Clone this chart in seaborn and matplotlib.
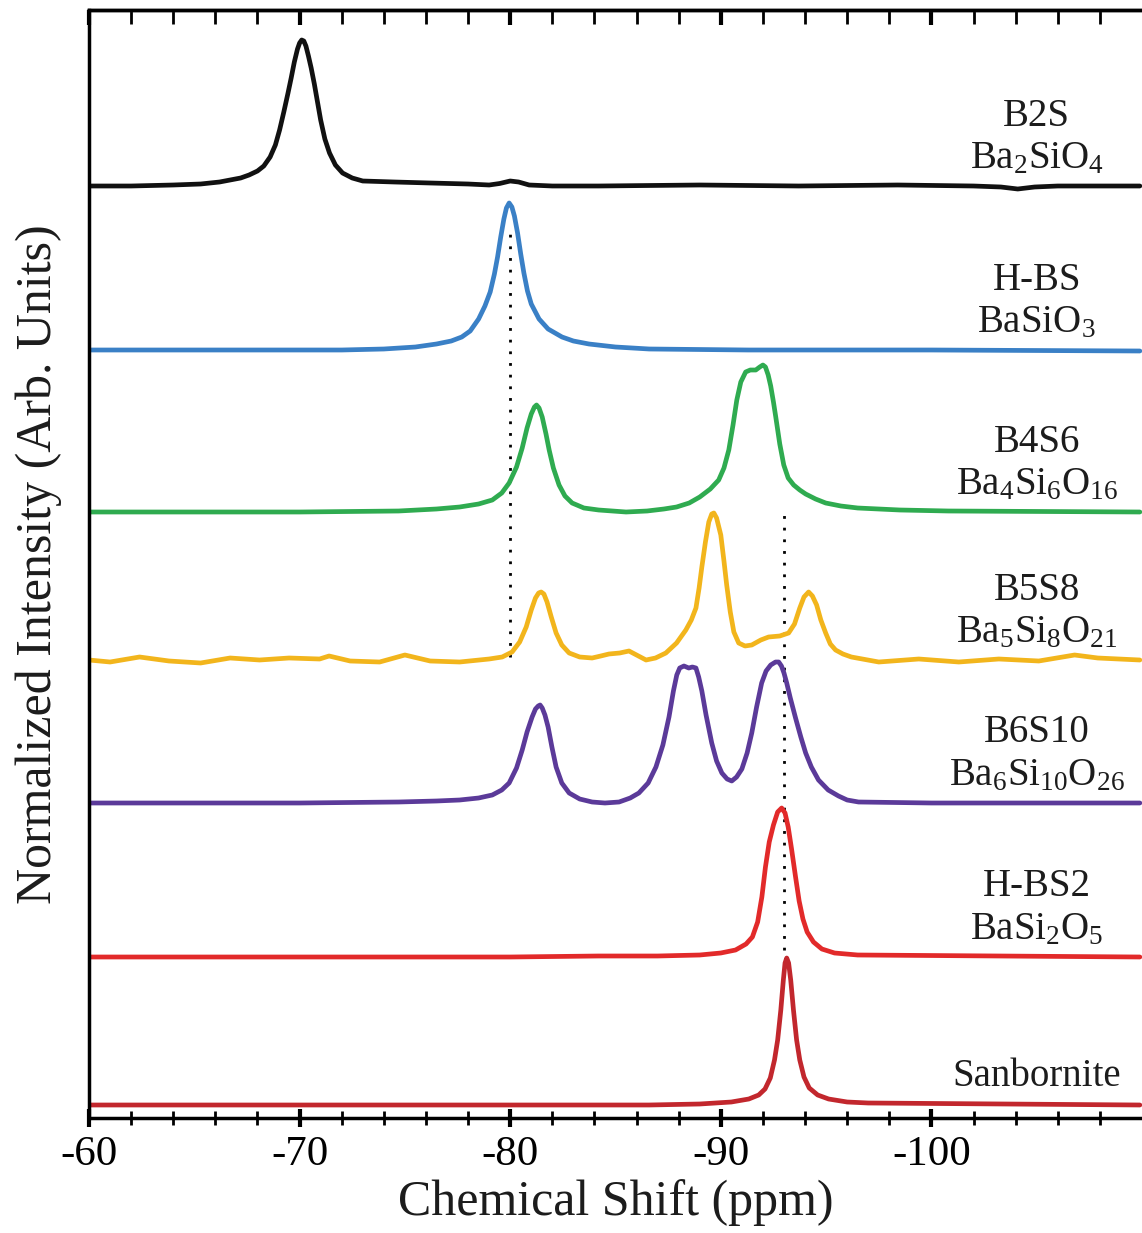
import numpy as np
import pandas as pd
import matplotlib
matplotlib.use("Agg")
import matplotlib.pyplot as plt
import seaborn as sns

# ---------------- data ----------------
# chemical shift (ppm) and intensity above each trace's own baseline (arb. units)
b2s_ppm = [-60.0, -62.0, -64.0, -65.3, -66.2, -66.7, -67.2, -67.6, -68.0, -68.3, -68.6, -68.85,
           -69.05, -69.25, -69.45, -69.6, -69.75, -69.9, -70.0, -70.1, -70.2, -70.3, -70.42, -70.55,
           -70.7, -70.85, -71.0, -71.2, -71.42, -71.7, -72.04, -72.5, -73.0, -74.5, -76.2, -78.0,
           -79.0, -79.5, -80.0, -80.4, -80.9, -82.0, -84.2, -89.0, -93.7, -98.4, -102.0, -103.3,
           -104.1, -104.9, -106.0, -109.9]
b2s_int = [0.0, 0.0, 0.01, 0.02, 0.04, 0.06, 0.08, 0.11, 0.15, 0.20, 0.29, 0.41,
           0.56, 0.74, 0.93, 1.08, 1.24, 1.37, 1.43, 1.46, 1.45, 1.40, 1.30, 1.18,
           1.02, 0.84, 0.66, 0.47, 0.33, 0.21, 0.13, 0.08, 0.05, 0.04, 0.03, 0.02,
           0.01, 0.025, 0.05, 0.04, 0.01, 0.0, 0.0, 0.01, 0.0, 0.01, 0.0, -0.01,
           -0.03, -0.01, 0.0, 0.0]

hbs_ppm = [-60.0, -66.0, -72.0, -74.0, -75.5, -76.5, -77.2, -77.7, -78.1, -78.5, -78.8, -79.05,
           -79.25, -79.4, -79.55, -79.7, -79.82, -79.95, -80.08, -80.2, -80.35, -80.5, -80.65, -80.82,
           -81.0, -81.37, -81.8, -82.46, -83.0, -83.74, -85.0, -86.6, -91.3, -100.0, -109.9]
hbs_int = [0.0, 0.0, 0.0, 0.01, 0.03, 0.06, 0.09, 0.13, 0.19, 0.31, 0.44, 0.58,
           0.76, 0.93, 1.13, 1.31, 1.42, 1.47, 1.43, 1.34, 1.17, 0.96, 0.77, 0.59,
           0.46, 0.31, 0.21, 0.13, 0.09, 0.06, 0.03, 0.01, 0.0, 0.0, -0.01]

b4s6_ppm = [-60.0, -70.0, -74.7, -76.5, -77.6, -78.5, -79.15, -79.6, -79.95, -80.3, -80.57, -80.8,
            -81.0, -81.15, -81.25, -81.37, -81.52, -81.7, -81.85, -82.05, -82.32, -82.6, -82.94, -83.5,
            -84.2, -85.5, -86.5, -87.3, -87.9, -88.5, -89.0, -89.5, -89.9, -90.15, -90.38, -90.58,
            -90.76, -90.95, -91.18, -91.4, -91.66, -91.85, -92.0, -92.12, -92.25, -92.37, -92.5, -92.61,
            -92.8, -92.99, -93.2, -93.46, -93.75, -94.03, -94.5, -94.98, -95.7, -96.5, -98.5, -100.8,
            -109.9]
b4s6_int = [0.0, 0.0, 0.01, 0.03, 0.05, 0.08, 0.12, 0.19, 0.29, 0.45, 0.64, 0.84,
            0.98, 1.05, 1.07, 1.04, 0.95, 0.78, 0.62, 0.44, 0.27, 0.16, 0.09, 0.04,
            0.02, 0.0, 0.01, 0.03, 0.05, 0.09, 0.15, 0.23, 0.32, 0.44, 0.62, 0.87,
            1.12, 1.30, 1.40, 1.42, 1.42, 1.45, 1.47, 1.45, 1.37, 1.26, 1.10, 0.95,
            0.68, 0.47, 0.34, 0.27, 0.22, 0.18, 0.13, 0.09, 0.06, 0.04, 0.02, 0.01,
            0.0]

b5s8_ppm = [-60.0, -61.0, -62.4, -63.8, -65.3, -66.7, -68.1, -69.5, -70.95, -71.4, -72.4, -73.8,
            -75.0, -76.2, -77.6, -79.0, -79.62, -80.09, -80.45, -80.76, -81.0, -81.2, -81.35, -81.47,
            -81.6, -81.75, -81.95, -82.18, -82.45, -82.8, -83.3, -83.89, -84.3, -84.69, -85.2, -85.64,
            -86.0, -86.45, -86.9, -87.39, -87.9, -88.34, -88.6, -88.82, -88.97, -89.1, -89.27, -89.43,
            -89.57, -89.67, -89.8, -90.0, -90.15, -90.28, -90.45, -90.62, -90.85, -91.15, -91.47, -91.9,
            -92.27, -92.8, -93.22, -93.5, -93.75, -93.95, -94.17, -94.35, -94.55, -94.75, -94.98, -95.2,
            -95.45, -95.8, -96.2, -97.5, -99.4, -101.3, -103.2, -105.1, -106.8, -107.9, -109.9]
b5s8_int = [0.0, -0.02, 0.03, -0.01, -0.03, 0.02, 0.0, 0.02, 0.01, 0.04, -0.01, -0.02,
            0.05, -0.01, -0.02, 0.01, 0.03, 0.08, 0.18, 0.33, 0.50, 0.62, 0.67, 0.68,
            0.66, 0.58, 0.43, 0.27, 0.15, 0.07, 0.03, 0.02, 0.04, 0.06, 0.07, 0.09,
            0.05, 0.0, 0.02, 0.07, 0.17, 0.30, 0.40, 0.52, 0.72, 0.93, 1.18, 1.38,
            1.46, 1.47, 1.42, 1.25, 0.99, 0.75, 0.48, 0.28, 0.17, 0.14, 0.15, 0.20,
            0.23, 0.24, 0.27, 0.36, 0.52, 0.63, 0.68, 0.64, 0.55, 0.40, 0.27, 0.16,
            0.10, 0.06, 0.03, -0.02, 0.01, -0.02, 0.01, -0.01, 0.05, 0.02, 0.0]

b6s10_ppm = [-60.0, -70.0, -74.7, -76.5, -77.6, -78.5, -79.15, -79.6, -79.95, -80.3, -80.57, -80.8,
             -81.04, -81.2, -81.33, -81.42, -81.52, -81.65, -81.8, -81.98, -82.18, -82.45, -82.8, -83.3,
             -83.89, -84.5, -85.17, -85.7, -86.11, -86.55, -86.92, -87.25, -87.54, -87.75, -87.91, -88.05,
             -88.25, -88.48, -88.65, -88.82, -88.95, -89.1, -89.3, -89.57, -89.8, -90.05, -90.3, -90.52,
             -90.75, -91.0, -91.25, -91.47, -91.7, -91.94, -92.15, -92.37, -92.6, -92.75, -92.88, -93.0,
             -93.13, -93.3, -93.55, -93.8, -94.03, -94.3, -94.64, -95.1, -95.59, -96.0, -96.54, -100.0,
             -109.9]
b6s10_int = [0.0, 0.0, 0.01, 0.02, 0.03, 0.05, 0.08, 0.13, 0.20, 0.35, 0.53, 0.71,
             0.86, 0.94, 0.97, 0.98, 0.95, 0.88, 0.76, 0.56, 0.36, 0.20, 0.10, 0.04,
             0.01, 0.0, 0.01, 0.05, 0.10, 0.20, 0.36, 0.58, 0.86, 1.12, 1.28, 1.35,
             1.37, 1.35, 1.36, 1.35, 1.26, 1.12, 0.88, 0.60, 0.42, 0.30, 0.24, 0.22,
             0.26, 0.34, 0.50, 0.70, 0.96, 1.20, 1.32, 1.38, 1.41, 1.41, 1.37, 1.30,
             1.20, 1.05, 0.85, 0.66, 0.50, 0.36, 0.23, 0.13, 0.07, 0.03, 0.01, 0.0,
             0.0]

hbs2_ppm = [-60.0, -80.0, -84.2, -87.0, -89.0, -90.0, -90.7, -91.2, -91.5, -91.75, -91.95, -92.12,
            -92.3, -92.5, -92.7, -92.89, -93.05, -93.2, -93.36, -93.55, -93.72, -93.9, -94.1, -94.4,
            -94.8, -95.4, -96.5, -109.9]
hbs2_int = [0.0, 0.0, 0.01, 0.01, 0.02, 0.04, 0.07, 0.13, 0.20, 0.35, 0.60, 0.90,
            1.15, 1.32, 1.45, 1.49, 1.44, 1.30, 1.08, 0.80, 0.56, 0.38, 0.25, 0.15,
            0.08, 0.04, 0.02, 0.0]

sanb_ppm = [-60.0, -80.0, -86.6, -89.0, -90.5, -91.33, -91.8, -92.1, -92.35, -92.55, -92.7, -92.85,
            -92.97, -93.05, -93.13, -93.22, -93.32, -93.45, -93.6, -93.75, -93.95, -94.2, -94.6, -95.12,
            -96.0, -97.0, -109.9]
sanb_int = [0.0, 0.0, 0.0, 0.01, 0.03, 0.06, 0.10, 0.16, 0.27, 0.45, 0.65, 0.95,
            1.25, 1.42, 1.47, 1.42, 1.25, 0.95, 0.65, 0.45, 0.28, 0.17, 0.10, 0.06,
            0.03, 0.02, 0.0]

sample_names = ["B2S", "H-BS", "B4S6", "B5S8", "B6S10", "H-BS2", "Sanbornite"]
formulas = ["Ba$_2$SiO$_4$", "BaSiO$_3$", "Ba$_4$Si$_6$O$_{16}$", "Ba$_5$Si$_8$O$_{21}$",
            "Ba$_6$Si$_{10}$O$_{26}$", "BaSi$_2$O$_5$", ""]
offsets = [9.32, 7.68, 6.06, 4.58, 3.15, 1.61, 0.13]
colors = ["#111111", "#3a80c6", "#2fab50", "#f2b51c", "#5b3a99", "#e22a2a", "#c2272d"]

ppm_series = [b2s_ppm, hbs_ppm, b4s6_ppm, b5s8_ppm, b6s10_ppm, hbs2_ppm, sanb_ppm]
int_series = [b2s_int, hbs_int, b4s6_int, b5s8_int, b6s10_int, hbs2_int, sanb_int]

# dotted guide lines: position (ppm) and vertical span (data units)
guide_ppm = [-80.0, -93.0]
guide_top = [8.86, 6.05]
guide_bottom = [4.61, 1.68]

xtick_major = [-60, -70, -80, -90, -100]
xtick_labels = ["-60", "-70", "-80", "-90", "-100"]
x_limits = (-60.0, -110.0)
y_limits = (0.0, 11.08)

# ---------------- styling ----------------
sns.set_theme(style="ticks")
plt.rcParams["font.family"] = ["Liberation Serif", "DejaVu Serif"]
plt.rcParams["mathtext.fontset"] = "custom"
plt.rcParams["mathtext.rm"] = "Liberation Serif"
plt.rcParams["mathtext.default"] = "regular"
plt.rcParams["axes.unicode_minus"] = False

fig = plt.figure(figsize=(11.42, 12.33), dpi=100)
ax = fig.add_axes([89 / 1142, 1 - 1118 / 1233, 1 - 89 / 1142, (1118 - 10) / 1233])

rows = []
for name, p, i, off in zip(sample_names, ppm_series, int_series, offsets):
    for pp, ii in zip(p, i):
        rows.append({"sample": name, "ppm": pp, "y": off + ii})
df = pd.DataFrame(rows)

for name, col in zip(sample_names, colors):
    sns.lineplot(data=df[df["sample"] == name], x="ppm", y="y", color=col, lw=3.4,
                 sort=False, estimator=None, ax=ax, legend=False,
                 solid_joinstyle="round", solid_capstyle="round")

for gx, gt, gb in zip(guide_ppm, guide_top, guide_bottom):
    ax.plot([gx, gx], [gb, gt], color="black", lw=2.0, linestyle=(0, (1, 3.2)), zorder=1)

# labels
label_x = -105.0
txt_col = "#1c1c1c"
for name, form, off in zip(sample_names, formulas, offsets):
    if form:
        ax.text(label_x, off + 0.70, name, ha="center", va="center", fontsize=28, color=txt_col)
        ax.text(label_x, off + 0.27, form, ha="center", va="center", fontsize=28, color=txt_col)
    else:
        ax.text(label_x, off + 0.28, name, ha="center", va="center", fontsize=28, color=txt_col)

ax.set_xlim(*x_limits)
ax.set_ylim(*y_limits)
ax.set_xticks(xtick_major)
ax.set_xticklabels(xtick_labels)
ax.set_xticks(np.arange(-62, -110, -2), minor=True)
ax.set_yticks([])

ax.tick_params(axis="x", which="both", bottom=True, top=False, direction="inout",
               labelsize=31, pad=6, colors="black")
ax.tick_params(axis="x", which="major", length=13, width=3)
ax.tick_params(axis="x", which="minor", length=10, width=2)

# top axis: inward ticks only
top = ax.secondary_xaxis("top")
top.set_xticks(xtick_major)
top.set_xticks(np.arange(-62, -110, -2), minor=True)
top.tick_params(axis="x", which="both", direction="in", labeltop=False, colors="black")
top.tick_params(axis="x", which="major", length=11, width=3)
top.tick_params(axis="x", which="minor", length=10, width=2)
top.spines["top"].set_linewidth(2.5)

for side in ["left", "top", "bottom"]:
    ax.spines[side].set_linewidth(2.5)
    ax.spines[side].set_color("black")
ax.spines["right"].set_visible(False)

ax.set_xlabel("Chemical Shift (ppm)", fontsize=36, color=txt_col)
ax.set_ylabel("Normalized Intensity (Arb. Units)", fontsize=36, color=txt_col)
ax.yaxis.set_label_coords(-0.026, 0.5)
ax.xaxis.set_label_coords(0.5, -0.055)

fig.savefig("out.png", dpi=100)
